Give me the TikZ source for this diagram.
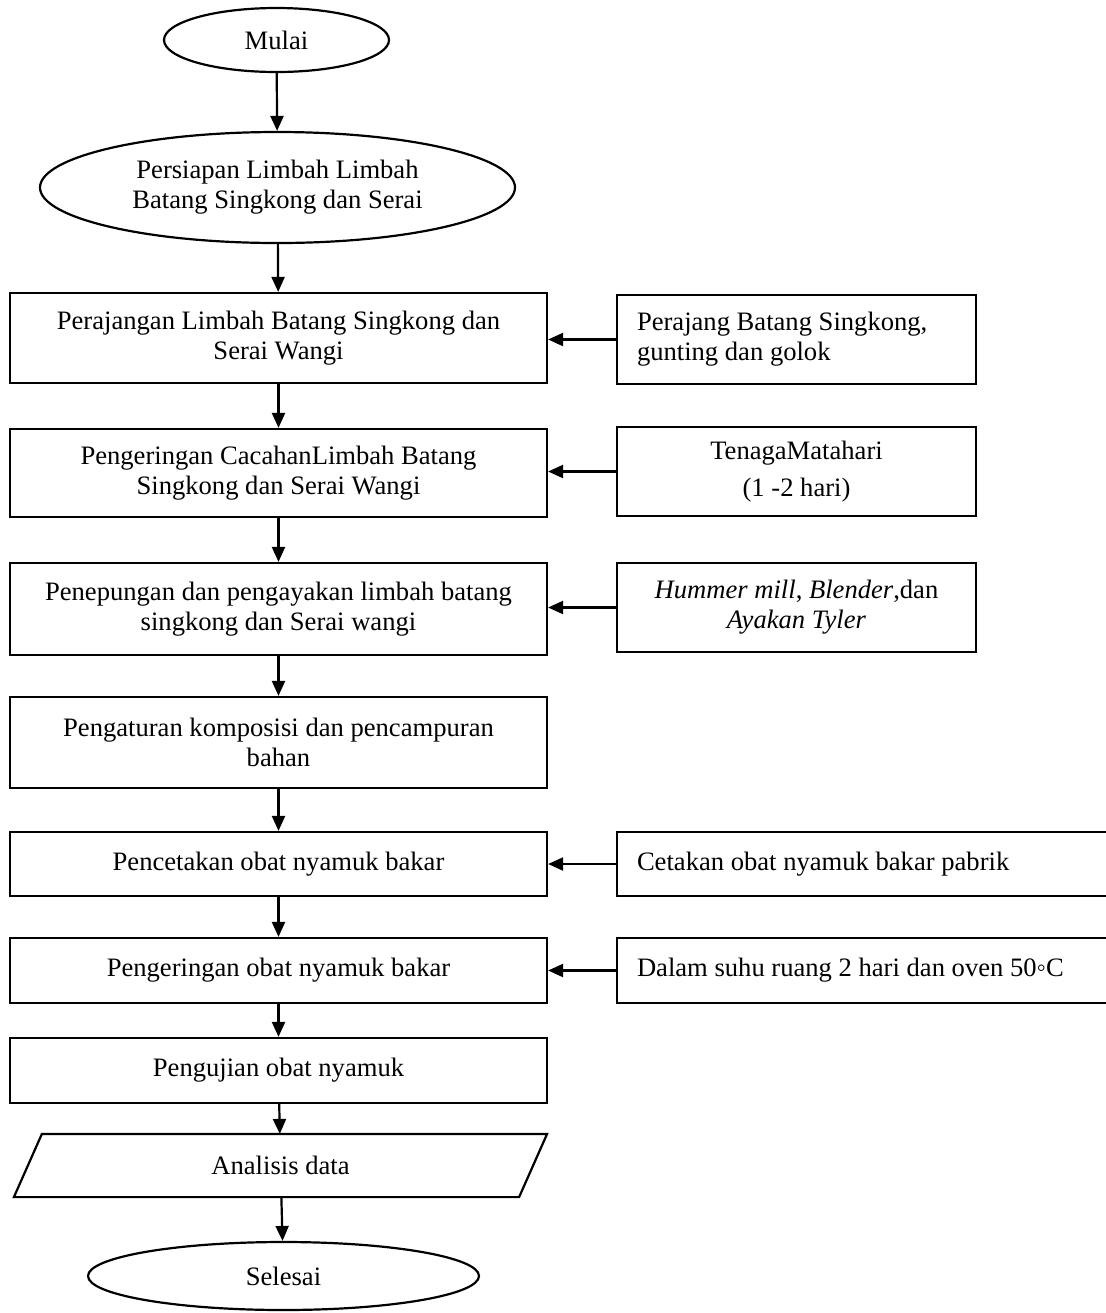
\documentclass[tikz,border=0pt]{standalone}
\usepackage{fontspec}
\setmainfont{Liberation Serif}
\usetikzlibrary{shapes.geometric, arrows.meta}

\newcommand{\xsc}[0]{0.5pt}
\newcommand{\ysc}[0]{-0.5pt}

\begin{document}
\begin{tikzpicture}[x=\xsc, y=\ysc, line width=1.1pt,
>={Triangle[length=7.5pt, width=6.5pt]},
every node/.style={font=\fontsize{13.3pt}{15pt}\selectfont, inner sep=0pt},
term/.style={draw, ellipse, align=center},
proc/.style={draw, rectangle, align=center, minimum width=268.5pt},
tool/.style={draw, rectangle, align=center, minimum width=179.5pt, minimum height=44.5pt},
toolleft/.style={draw, rectangle, align=flush left, inner xsep=10pt, text width=159.5pt, minimum height=44.5pt},
io/.style={rectangle, align=center, minimum width=265.5pt, minimum height=30.5pt}]

\useasboundingbox (0,0) rectangle (1105,1313);

\node[term, minimum width=112.5pt, minimum height=32pt] (mulai) at (276.5,40) {Mulai};
\node[term, minimum width=237.5pt, minimum height=55.5pt] (persiapan) at (277.5,187.5) {Persiapan Limbah Limbah\\Batang Singkong dan Serai};

\node[proc, minimum height=45pt] (rajang) at (278.5,338) {Perajangan Limbah Batang Singkong dan\\Serai Wangi};
\node[proc, minimum height=44pt] (kering) at (278.5,473) {Pengeringan CacahanLimbah Batang\\Singkong dan Serai Wangi};
\node[proc, minimum height=46pt] (tepung) at (278.5,609) {Penepungan dan pengayakan limbah batang\\singkong dan Serai wangi};
\node[proc, minimum height=45.5pt] (campur) at (278.5,742.5) {Pengaturan komposisi dan pencampuran\\bahan};
\node[proc, minimum height=32pt] (cetak) at (278.5,864) {Pencetakan obat nyamuk bakar};
\node[proc, minimum height=32.5pt] (keringobat) at (278.5,970.5) {Pengeringan obat nyamuk bakar};
\node[proc, minimum height=32.5pt] (uji) at (278.5,1070.5) {Pengujian obat nyamuk};
\node[io] (analisis) at (280.5,1165.5) {Analisis data};
\node[term, minimum width=195.5pt, minimum height=34pt] (selesai) at (283.5,1276) {Selesai};

\draw ([xshift=14pt]analisis.north west) -- (analisis.north east) -- ([xshift=-14pt]analisis.south east) -- (analisis.south west) -- cycle;

\node[toolleft] (perajang) at (796.5,339.5) {Perajang Batang Singkong,\\gunting dan golok};
\node[tool] (matahari) at (796.5,471.5) {TenagaMatahari\\[3.5pt](1 -2 hari)};
\node[tool] (ayakan) at (796.5,607.5) {\textit{Hummer mill}, \textit{Blender},dan\\\textit{Ayakan Tyler}};
\node[toolleft, text width=231.5pt, minimum height=32pt] (cetakan) at (868.5,864) {Cetakan obat nyamuk bakar pabrik};
\node[toolleft, text width=231.5pt, minimum height=32.5pt] (oven) at (868.5,970.5) {Dalam suhu ruang 2 hari dan oven 50◦C};

\draw[->] (mulai) -- (persiapan);
\draw[->] (persiapan) -- (rajang);
\draw[->] (rajang) -- (kering);
\draw[->] (kering) -- (tepung);
\draw[->] (tepung) -- (campur);
\draw[->] (campur) -- (cetak);
\draw[->] (cetak) -- (keringobat);
\draw[->] (keringobat) -- (uji);
\draw[->] (uji) -- (analisis);
\draw[->] (analisis) -- (selesai);

\draw[->] (perajang.west) -- (perajang.west -| rajang.east);
\draw[->] (matahari.west) -- (matahari.west -| kering.east);
\draw[->] (ayakan.west) -- (ayakan.west -| tepung.east);
\draw[->] (cetakan.west) -- (cetakan.west -| cetak.east);
\draw[->] (oven.west) -- (oven.west -| keringobat.east);

\end{tikzpicture}
\end{document}
